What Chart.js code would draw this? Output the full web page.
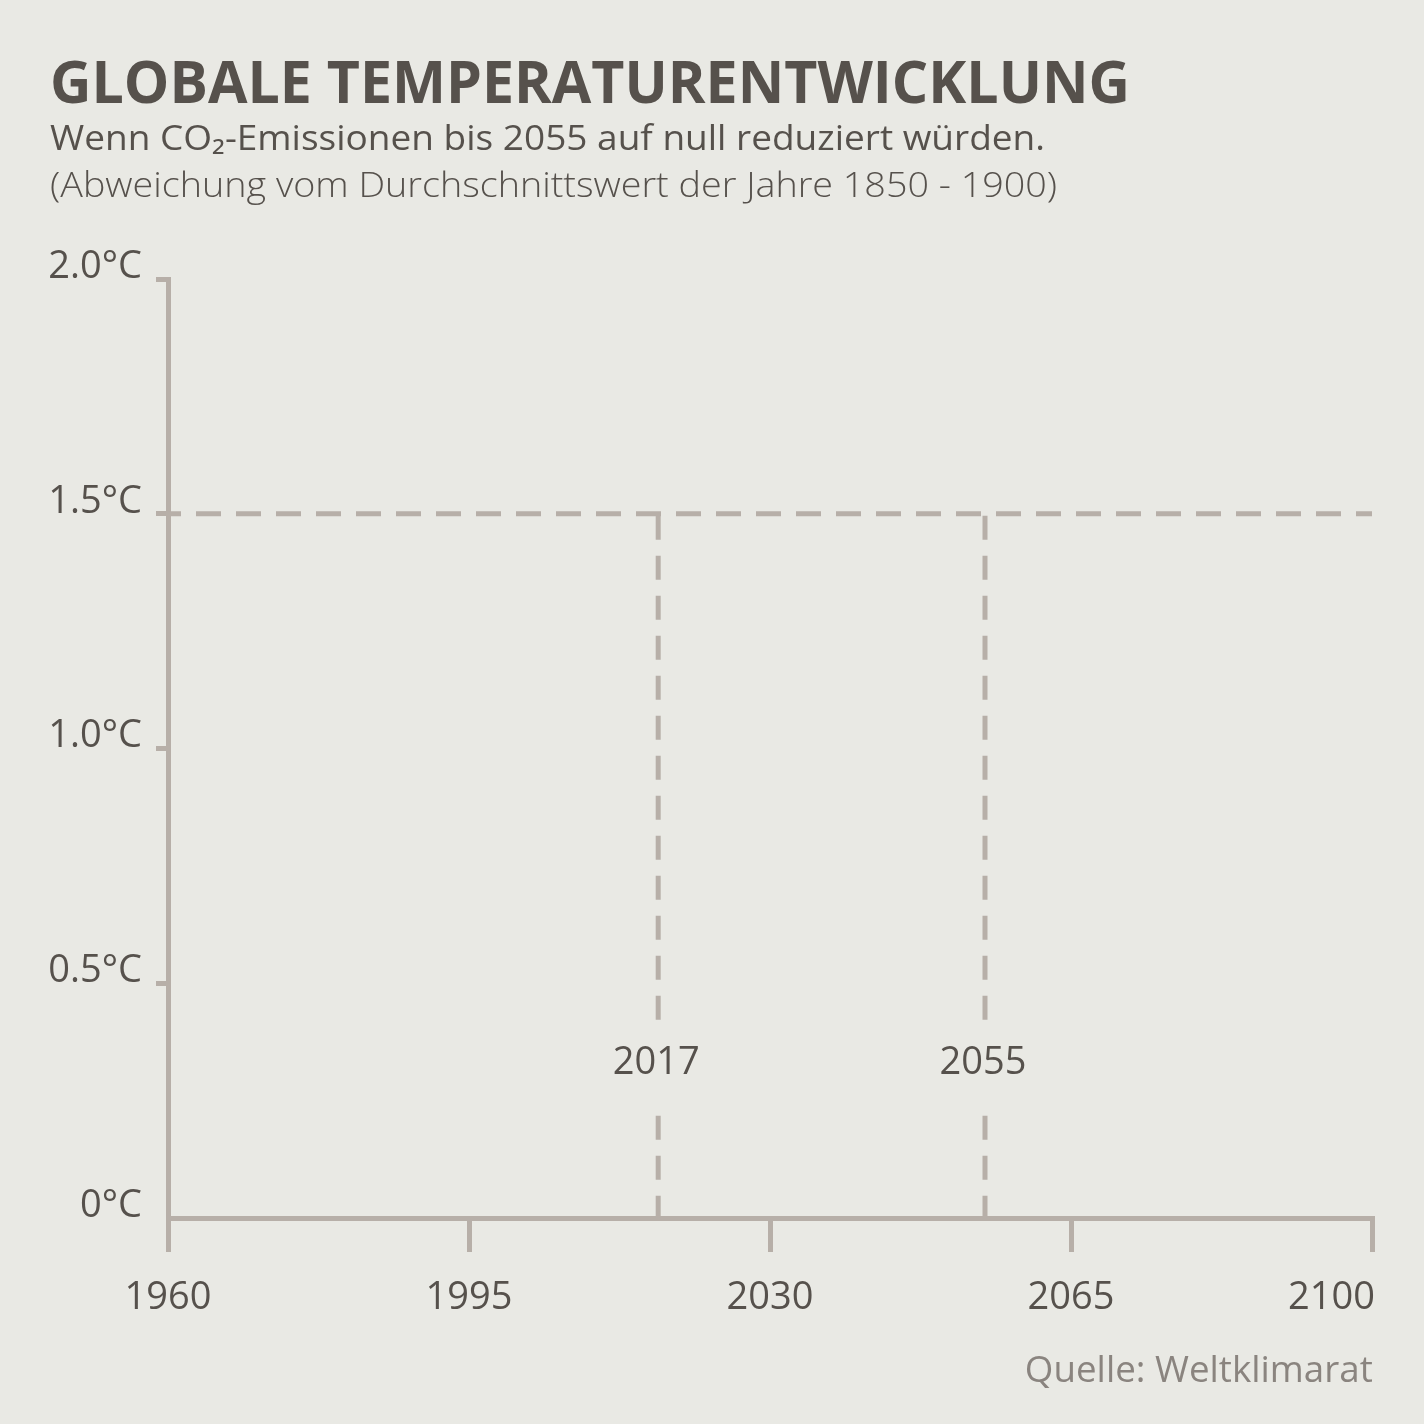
<!DOCTYPE html>
<html lang="de">
<head>
<meta charset="utf-8">
<script src="https://cdn.jsdelivr.net/npm/chart.js@4"></script>
<style>
  html, body { margin: 0; padding: 0; background: #e9e9e4; }
  #wrap { position: relative; width: 1424px; height: 1424px; background: #e9e9e4; overflow: hidden; }
  #chart { position: absolute; left: 0; top: 0; }
  .txt { position: absolute; left: 50px; white-space: nowrap; line-height: 1; color: #56514c;
         font-family: "Open Sans", "Noto Sans", sans-serif; transform-origin: 0 0; }
  #title { font-weight: 700; font-size: 59px; top: 51px; }
  #sub1 { font-weight: 400; font-size: 35px; top: 119px; }
  #sub2 { font-weight: 300; font-size: 34px; top: 167px; }
  #source { font-weight: 400; font-size: 36px; top: 1351px; left: auto; color: #8a847f; transform-origin: 100% 0; }
</style>
</head>
<body>
<div id="wrap">
  <canvas id="chart" width="1424" height="1424"></canvas>
  <div class="txt" id="title" data-w="1080">GLOBALE TEMPERATURENTWICKLUNG</div>
  <div class="txt" id="sub1" data-w="995">Wenn CO₂-Emissionen bis 2055 auf null reduziert würden.</div>
  <div class="txt" id="sub2" data-w="1007">(Abweichung vom Durchschnittswert der Jahre 1850 - 1900)</div>
  <div class="txt" id="source" data-w="348">Quelle: Weltklimarat</div>
</div>
<script>
// ---- data ----
const xTicks = [1960, 1995, 2030, 2065, 2100];
const yTicks = [0, 0.5, 1.0, 1.5, 2.0];
const yTickLabels = ['0°C', '0.5°C', '1.0°C', '1.5°C', '2.0°C'];
const thresholdValue = 1.5;
const markerYears = [2017, 2055];
const markerLabels = ['2017', '2055'];

// ---- styles ----
const BG = '#e9e9e4';
const AXIS = '#b7afa8';
const TEXT = '#56514c';
const FONT = '"Open Sans", "Noto Sans", sans-serif';

// fit text widths
document.querySelectorAll('.txt').forEach(el => {
  const target = +el.dataset.w;
  const w = el.getBoundingClientRect().width;
  if (el.id === 'source') { el.style.right = (1424 - 1373) + 'px'; }
  el.style.transform = 'scaleX(' + (target / w) + ')';
});

const datasets = [
  {
    data: [{x: xTicks[0], y: thresholdValue}, {x: xTicks[xTicks.length - 1], y: thresholdValue}],
    borderColor: AXIS, borderWidth: 5, borderDash: [25, 15], borderDashOffset: 12,
    pointRadius: 0, fill: false, clip: false, borderCapStyle: 'butt'
  }
].concat(markerYears.map(yr => ({
  data: [{x: yr, y: thresholdValue}, {x: yr, y: 0}],
  borderColor: AXIS, borderWidth: 5, borderDash: [24, 16], borderDashOffset: -2,
  pointRadius: 0, fill: false, clip: false, borderCapStyle: 'butt'
})));

const labelPlugin = {
  id: 'labels',
  afterDatasetsDraw(chart) {
    const ctx = chart.ctx;
    const xs = chart.scales.x, ys = chart.scales.y;
    ctx.save();
    // marker labels with background knock-out
    ctx.font = '38px ' + FONT;
    ctx.textAlign = 'center';
    ctx.textBaseline = 'middle';
    const ly = ys.getPixelForValue(0.33);
    markerYears.forEach((yr, i) => {
      const px = xs.getPixelForValue(yr);
      ctx.fillStyle = BG;
      ctx.fillRect(px - 10, ly - 40, 20, 80);
      ctx.fillStyle = TEXT;
      ctx.fillText(markerLabels[i], px - 2, ly);
    });
    // x tick labels
    ctx.font = '38px ' + FONT;
    ctx.textBaseline = 'alphabetic';
    ctx.fillStyle = TEXT;
    xTicks.forEach((v, i) => {
      const px = xs.getPixelForValue(v);
      if (i === xTicks.length - 1) { ctx.textAlign = 'right'; ctx.fillText(String(v), px + 3, 1309); }
      else { ctx.textAlign = 'center'; ctx.fillText(String(v), px, 1309); }
    });
    ctx.restore();
  }
};

new Chart(document.getElementById('chart'), {
  type: 'line',
  data: { datasets },
  options: {
    responsive: false,
    animation: false,
    devicePixelRatio: 1,
    layout: { padding: { left: 0, top: 279, right: 52, bottom: 0 } },
    plugins: { legend: { display: false }, tooltip: { enabled: false }, title: { display: false } },
    scales: {
      x: {
        type: 'linear', min: xTicks[0], max: xTicks[xTicks.length - 1],
        afterBuildTicks: s => { s.ticks = xTicks.map(v => ({ value: v })); },
        afterFit: s => { s.height = 1424 - 1218; },
        border: { display: true, color: AXIS, width: 5 },
        grid: { drawOnChartArea: false, drawTicks: true, tickLength: 34, color: AXIS, lineWidth: 5 },
        ticks: { display: false }
      },
      y: {
        type: 'linear', min: yTicks[0], max: yTicks[yTicks.length - 1],
        afterBuildTicks: s => { s.ticks = yTicks.map(v => ({ value: v })); },
        afterFit: s => { s.width = 168; },
        border: { display: true, color: AXIS, width: 5 },
        grid: {
          drawOnChartArea: false, drawTicks: true, tickLength: 12, lineWidth: 5,
          color: c => (c.tick && c.tick.value === 0) ? 'rgba(0,0,0,0)' : AXIS
        },
        ticks: {
          padding: 14, labelOffset: -12, color: TEXT,
          font: { family: FONT, size: 38 },
          callback: v => { const i = yTicks.indexOf(v); return i >= 0 ? yTickLabels[i] : ''; }
        }
      }
    }
  },
  plugins: [labelPlugin]
});
</script>
</body>
</html>
